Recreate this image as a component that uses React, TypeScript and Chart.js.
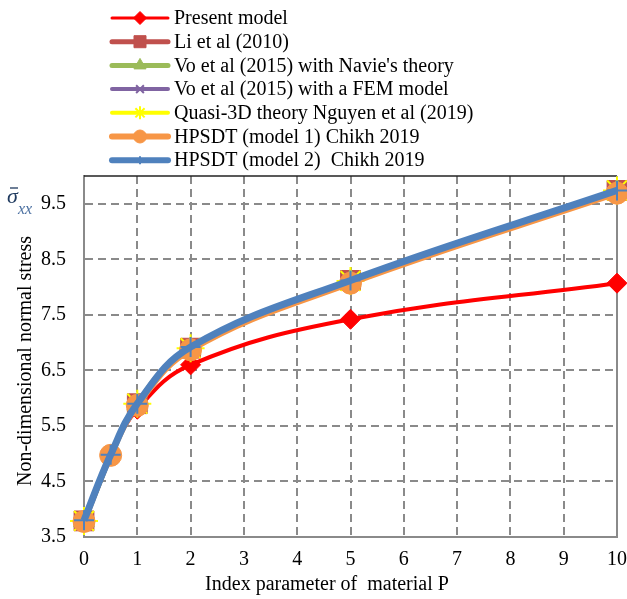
import React, { useEffect, useRef } from "react";
import { Chart, registerables } from "chart.js";
import { drawPoint } from "chart.js/helpers";

Chart.register(...registerables);

// ---- data ----
const xAll = [0, 0.5, 1, 2, 5, 10];
const xRef = [0, 1, 2, 5, 10];
const presentModel = [3.8, 4.97, 5.8, 6.6, 7.42, 8.07];
const li2010 = [3.79, 5.9, 6.9, 8.12, 9.74];
const voNavier = [3.79, 5.89, 6.89, 8.11, 9.73];
const voFem = [3.79, 5.89, 6.89, 8.11, 9.73];
const quasi3d = [3.79, 5.9, 6.9, 8.11, 9.74];
const hpsdt1 = [3.78, 4.97, 5.87, 6.87, 8.07, 9.69];
const hpsdt2 = [3.8, 4.98, 5.9, 6.92, 8.12, 9.74];
const yTickValues = [3.5, 4.5, 5.5, 6.5, 7.5, 8.5, 9.5];
const seriesLabels = [
  "Present model",
  "Li et al (2010)",
  "Vo et al (2015) with Navie's theory",
  "Vo et al (2015) with a FEM model",
  "Quasi-3D theory Nguyen et al (2019)",
  "HPSDT (model 1) Chikh 2019",
  "HPSDT (model 2)  Chikh 2019",
];
const xTitle = "Index parameter of  material P";
const yTitle = "Non-dimensional normal stress";

const FONT = "'Liberation Serif', 'Times New Roman', serif";

const toPts = (xs: number[], ys: number[]) => ys.map((y, i) => ({ x: xs[i], y }));

type Style = {
  color: string;
  fill: string;
  width: number;
  point: string;
  radius: number;
  pbw: number;
  lw: number;
  lr: number;
  order: number;
};

const styles: Style[] = [
  { color: "#FF0000", fill: "#FF0000", width: 4, point: "rectRot", radius: 10, pbw: 1, lw: 3, lr: 6.5, order: 7 },
  { color: "#C0504D", fill: "#C0504D", width: 4, point: "rect", radius: 14, pbw: 1, lw: 5, lr: 8.5, order: 6 },
  { color: "#9BBB59", fill: "#9BBB59", width: 4, point: "triangle", radius: 12, pbw: 1, lw: 5, lr: 7, order: 5 },
  { color: "#8064A2", fill: "#8064A2", width: 4, point: "crossRot", radius: 11, pbw: 2, lw: 4, lr: 5.5, order: 4 },
  { color: "#FFFF00", fill: "#FFFF00", width: 4, point: "star", radius: 14, pbw: 2, lw: 4, lr: 6.5, order: 3 },
  { color: "#F79646", fill: "#F79646", width: 6, point: "circle", radius: 11, pbw: 1, lw: 6, lr: 6.5, order: 2 },
  { color: "#4F81BD", fill: "#4F81BD", width: 7, point: "cross", radius: 10, pbw: 2, lw: 6, lr: 4, order: 1 },
];

const seriesData = [
  toPts(xAll, presentModel),
  toPts(xRef, li2010),
  toPts(xRef, voNavier),
  toPts(xRef, voFem),
  toPts(xRef, quasi3d),
  toPts(xAll, hpsdt1),
  toPts(xAll, hpsdt2),
];

const overlayPlugin = {
  id: "overlay",
  beforeDatasetsDraw(chart: any) {
    const { ctx, chartArea: a } = chart;
    ctx.save();
    ctx.strokeStyle = "#222";
    ctx.lineWidth = 1.5;
    ctx.beginPath();
    ctx.moveTo(a.left, a.top);
    ctx.lineTo(a.right, a.top);
    ctx.stroke();
    ctx.strokeStyle = "#8a8a8a";
    ctx.lineWidth = 2;
    ctx.beginPath();
    ctx.moveTo(a.right, a.top);
    ctx.lineTo(a.right, a.bottom + 1);
    ctx.stroke();
    ctx.restore();
  },
  afterDraw(chart: any) {
    const { ctx } = chart;
    ctx.save();
    // legend
    const x0 = 112;
    const x1 = 168;
    const xm = 140;
    seriesLabels.forEach((label, i) => {
      const s = styles[i];
      const y = 18 + i * 23.7;
      ctx.strokeStyle = s.color;
      ctx.lineWidth = s.lw;
      ctx.lineCap = "round";
      ctx.beginPath();
      ctx.moveTo(x0, y);
      ctx.lineTo(x1, y);
      ctx.stroke();
      ctx.lineCap = "butt";
      ctx.fillStyle = s.fill;
      ctx.strokeStyle = s.color;
      ctx.lineWidth = s.pbw;
      drawPoint(ctx, { pointStyle: s.point as any, rotation: 0, radius: s.lr, borderWidth: s.pbw }, xm, y);
      ctx.fillStyle = "#000";
      ctx.font = `20px ${FONT}`;
      ctx.textAlign = "left";
      ctx.textBaseline = "middle";
      ctx.fillText(label, 174, y + 1);
    });
    // axis titles
    ctx.fillStyle = "#000";
    ctx.font = `20px ${FONT}`;
    ctx.textAlign = "center";
    ctx.textBaseline = "middle";
    ctx.fillText(xTitle, 327, 585);
    ctx.save();
    ctx.translate(26, 361);
    ctx.rotate(-Math.PI / 2);
    ctx.fillText(yTitle, 0, 0);
    ctx.restore();
    // sigma label
    ctx.textAlign = "left";
    ctx.textBaseline = "alphabetic";
    ctx.fillStyle = "#1F3A5F";
    ctx.font = `italic 22px ${FONT}`;
    ctx.fillText("σ", 7, 203);
    ctx.strokeStyle = "#1F3A5F";
    ctx.lineWidth = 1.3;
    ctx.beginPath();
    ctx.moveTo(10, 188);
    ctx.lineTo(18, 188);
    ctx.stroke();
    ctx.fillStyle = "#4A6FA0";
    ctx.font = `italic 16px ${FONT}`;
    ctx.fillText("xx", 18, 214);
    ctx.restore();
  },
};

export default function App() {
  const ref = useRef<HTMLCanvasElement | null>(null);
  useEffect(() => {
    if (!ref.current) return;
    const chart = new Chart(ref.current, {
      type: "line",
      data: {
        datasets: seriesLabels.map((label, i) => {
          const s = styles[i];
          return {
            label,
            data: seriesData[i],
            borderColor: s.color,
            backgroundColor: s.fill,
            borderWidth: s.width,
            pointStyle: s.point as any,
            pointRadius: s.radius,
            pointHoverRadius: s.radius,
            pointBackgroundColor: s.fill,
            pointBorderColor: s.color,
            pointBorderWidth: s.pbw,
            tension: 0.4,
            fill: false,
            clip: false as any,
            order: s.order,
          };
        }),
      },
      options: {
        responsive: false,
        animation: false,
        layout: { autoPadding: false, padding: { top: 176, right: 10, left: 0, bottom: 0 } } as any,
        plugins: { legend: { display: false }, tooltip: { enabled: false } },
        scales: {
          x: {
            type: "linear",
            min: 0,
            max: 10,
            afterFit: (scale: any) => {
              scale.height = 62;
              scale.paddingRight = 0;
              scale.paddingLeft = 0;
            },
            ticks: {
              stepSize: 1,
              color: "#000",
              font: { family: FONT, size: 20 },
              padding: 11,
            },
            grid: {
              color: "#8a8a8a",
              lineWidth: 2,
              drawTicks: false,
              borderDash: [8, 5],
            } as any,
            border: { display: true, color: "#8a8a8a", width: 2, dash: [8, 5] } as any,
          },
          y: {
            type: "linear",
            min: 3.5,
            max: 10,
            afterFit: (scale: any) => {
              scale.width = 84;
              scale.paddingTop = 0;
              scale.paddingBottom = 0;
            },
            afterBuildTicks: (scale: any) => {
              scale.ticks = yTickValues.map((v) => ({ value: v }));
            },
            ticks: {
              color: "#000",
              font: { family: FONT, size: 20 },
              padding: 18,
              callback: (v: any) => Number(v).toFixed(1),
            },
            grid: {
              color: "#8a8a8a",
              lineWidth: 2,
              drawTicks: false,
              borderDash: [8, 5],
            } as any,
            border: { display: true, color: "#8a8a8a", width: 2, dash: [8, 5] } as any,
          },
        },
      },
      plugins: [overlayPlugin],
    });
    return () => chart.destroy();
  }, []);
  return (
    <div style={{ position: "fixed", left: 0, top: 0, width: 627, height: 599, background: "#fff" }}>
      <canvas ref={ref} width={627} height={599} />
    </div>
  );
}
